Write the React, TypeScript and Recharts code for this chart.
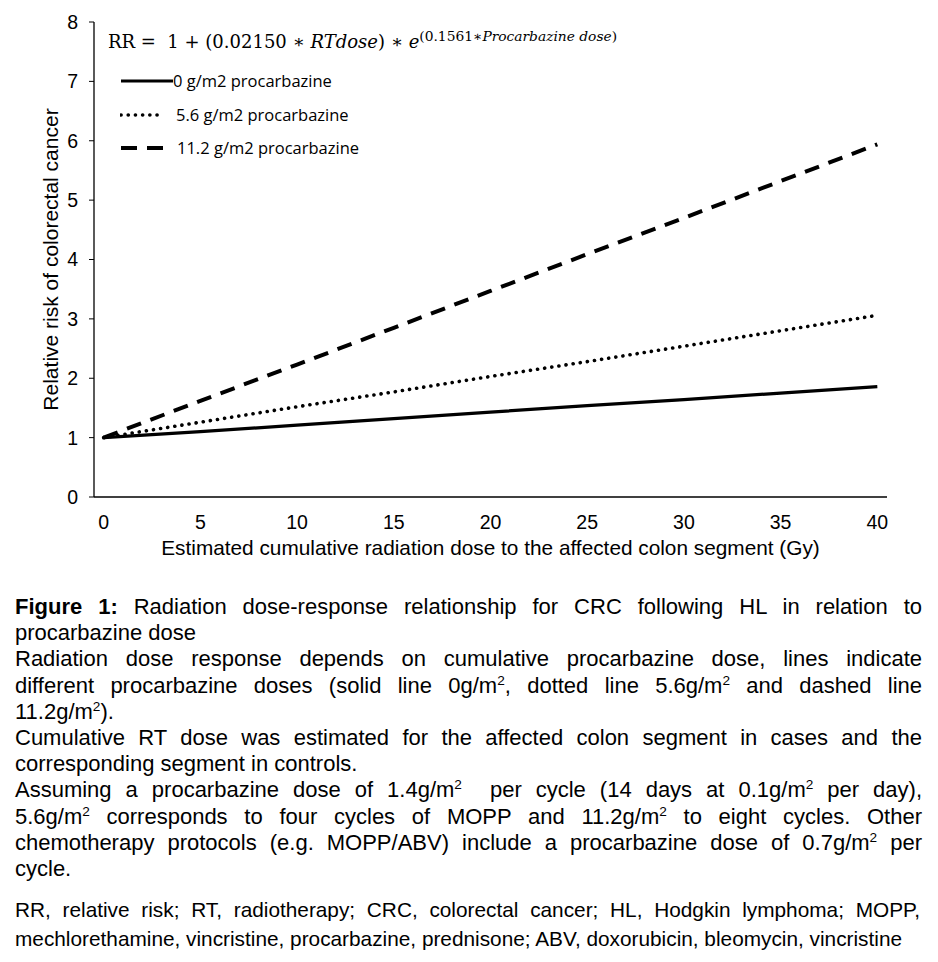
import React from 'react';
import { LineChart, Line, XAxis, YAxis, Legend, Label } from 'recharts';

// Estimated cumulative radiation dose (Gy)
const doseGy = [0, 5, 10, 15, 20, 25, 30, 35, 40];
// Relative risk
const rr0 = [1.0, 1.1, 1.21, 1.32, 1.43, 1.54, 1.64, 1.75, 1.86];
const rr56 = [1.0, 1.26, 1.52, 1.77, 2.03, 2.28, 2.54, 2.8, 3.06];
const rr112 = [1.0, 1.62, 2.23, 2.85, 3.47, 4.09, 4.7, 5.32, 5.94];

const seriesNames = ['0 g/m2 procarbazine', '5.6 g/m2 procarbazine', '11.2 g/m2 procarbazine'];
const xTickLabels = [0, 5, 10, 15, 20, 25, 30, 35, 40];
const xTickMarks = [4.5, 9.5, 14.5, 19.5, 24.5, 29.5, 34.5, 39.5];
const yTickLabels = [0, 1, 2, 3, 4, 5, 6, 7, 8];

const data = doseGy.map((d, i) => ({ dose: d, p0: rr0[i], p56: rr56[i], p112: rr112[i] }));

const lineStyles = [
  { key: 'p0', dash: undefined as string | undefined, width: 3.2, cap: 'butt' as const },
  { key: 'p56', dash: '0.1 7.1', width: 3.6, cap: 'round' as const },
  { key: 'p112', dash: '15 10', width: 4, cap: 'butt' as const },
];

const sansFont = '"Liberation Sans", Arial, sans-serif';

const supStyle: React.CSSProperties = { fontSize: '0.62em', verticalAlign: 'super', lineHeight: 0 };

function LegendBox() {
  const rowTops = [51, 85, 118];
  const sampleLen = [52, 42, 42];
  const textLeft = [65, 68, 69];
  return (
    <div style={{ position: 'relative', width: 580, height: 140 }}>
      <div
        style={{
          position: 'absolute',
          left: 0,
          top: 0,
          fontFamily: '"DejaVu Serif", "Liberation Serif", serif',
          fontSize: 18,
          lineHeight: '24px',
          whiteSpace: 'nowrap',
          color: '#000',
        }}
      >
        RR = &nbsp;1 + (0.02150 ∗ <i>RTdose</i>) ∗ <i>e</i>
        <span style={{ fontSize: 13.8, verticalAlign: 'super', lineHeight: 0 }}>
          (0.1561∗<i>Procarbazine dose</i>)
        </span>
      </div>
      {seriesNames.map((name, i) => (
        <div key={name} style={{ position: 'absolute', left: 0, top: rowTops[i] - 12, height: 24, width: 400 }}>
          <svg width={60} height={24} style={{ position: 'absolute', left: 12, top: 0 }}>
            <line
              x1={1}
              x2={1 + sampleLen[i]}
              y1={12}
              y2={12}
              stroke="#000"
              strokeWidth={lineStyles[i].width}
              strokeDasharray={i === 2 ? '16 10' : lineStyles[i].dash}
              strokeLinecap={lineStyles[i].cap}
            />
          </svg>
          <span
            style={{
              position: 'absolute',
              left: textLeft[i],
              top: 0,
              lineHeight: '24px',
              fontFamily: '"Open Sans", "Noto Sans", sans-serif',
              fontSize: 16.5,
              whiteSpace: 'nowrap',
              color: '#000',
            }}
          >
            {name}
          </span>
        </div>
      ))}
    </div>
  );
}

const lineStyle = (justify: boolean): React.CSSProperties => ({
  textAlign: justify ? 'justify' : 'left',
  textAlignLast: justify ? 'justify' : 'left',
});

export default function App() {
  return (
    <div style={{ position: 'absolute', left: 0, top: 0, width: 938, height: 962, background: '#fff' }}>
      <LineChart width={938} height={575} data={data} margin={{ top: 22, right: 51, left: 0, bottom: 18 }}>
        <XAxis
          dataKey="dose"
          type="number"
          domain={[-0.5, 40.5]}
          allowDataOverflow
          ticks={xTickLabels}
          tickLine={false}
          tickSize={6}
          tickMargin={12}
          axisLine={{ stroke: '#000', strokeWidth: 1.3 }}
          tick={{ fill: '#000', fontSize: 19.5, fontFamily: sansFont }}
          height={60}
        >
          <Label
            value="Estimated cumulative radiation dose to the affected colon segment (Gy)"
            position="insideBottom"
            offset={2}
            style={{ fill: '#000', fontSize: 20.8, fontFamily: sansFont }}
          />
        </XAxis>
        <XAxis
          xAxisId="marks"
          dataKey="dose"
          type="number"
          domain={[-0.5, 40.5]}
          allowDataOverflow
          ticks={xTickMarks}
          mirror
          axisLine={false}
          tickSize={8}
          tickLine={{ stroke: '#666', strokeWidth: 1.2 }}
          tickFormatter={() => ''}
          height={0}
        />
        <YAxis
          type="number"
          domain={[0, 8]}
          ticks={yTickLabels}
          width={94}
          tickSize={5}
          tickMargin={11}
          axisLine={{ stroke: '#000', strokeWidth: 1.3 }}
          tickLine={{ stroke: '#000', strokeWidth: 1 }}
          tick={{ fill: '#000', fontSize: 19.5, fontFamily: sansFont }}
        >
          <Label
            content={(props: any) => {
              const vb = props.viewBox || { x: 0, y: 22, width: 94, height: 475 };
              const cx = vb.x + 50;
              const cy = vb.y + vb.height / 2;
              return (
                <text
                  x={cx}
                  y={cy}
                  transform={`rotate(-90, ${cx}, ${cy})`}
                  textAnchor="middle"
                  dominantBaseline="central"
                  style={{ fill: '#000', fontSize: 21, fontFamily: sansFont }}
                >
                  Relative risk of colorectal cancer
                </text>
              );
            }}
          />
        </YAxis>
        <Legend
          layout="horizontal"
          verticalAlign="middle"
          align="center"
          content={() => <LegendBox />}
          wrapperStyle={{ left: 108, top: 30, width: 580, height: 140 }}
        />
        {lineStyles.map((s, i) => (
          <Line
            key={s.key}
            dataKey={s.key}
            name={seriesNames[i]}
            type="linear"
            stroke="#000"
            strokeWidth={s.width}
            strokeDasharray={s.dash}
            strokeLinecap={s.cap}
            dot={false}
            activeDot={false}
            isAnimationActive={false}
          />
        ))}
      </LineChart>
      <div
        style={{
          position: 'absolute',
          left: 15,
          top: 594,
          width: 907,
          fontFamily: sansFont,
          fontSize: 22,
          lineHeight: '26.2px',
          color: '#000',
        }}
      >
        <div style={lineStyle(true)}>
          <b>Figure 1:</b> Radiation dose-response relationship for CRC following HL in relation to
        </div>
        <div style={lineStyle(false)}>procarbazine dose</div>
        <div style={lineStyle(true)}>
          Radiation dose response depends on cumulative procarbazine dose, lines indicate
        </div>
        <div style={lineStyle(true)}>
          different procarbazine doses (solid line 0g/m<sup style={supStyle}>2</sup>, dotted line 5.6g/m
          <sup style={supStyle}>2</sup> and dashed line
        </div>
        <div style={lineStyle(false)}>
          11.2g/m<sup style={supStyle}>2</sup>).
        </div>
        <div style={lineStyle(true)}>
          Cumulative RT dose was estimated for the affected colon segment in cases and the
        </div>
        <div style={lineStyle(false)}>corresponding segment in controls.</div>
        <div style={lineStyle(true)}>
          Assuming a procarbazine dose of 1.4g/m<sup style={supStyle}>2</sup>&nbsp; per cycle (14 days at 0.1g/m
          <sup style={supStyle}>2</sup> per day),
        </div>
        <div style={lineStyle(true)}>
          5.6g/m<sup style={supStyle}>2</sup> corresponds to four cycles of MOPP and 11.2g/m
          <sup style={supStyle}>2</sup> to eight cycles. Other
        </div>
        <div style={lineStyle(true)}>
          chemotherapy protocols (e.g. MOPP/ABV) include a procarbazine dose of 0.7g/m
          <sup style={supStyle}>2</sup> per
        </div>
        <div style={lineStyle(false)}>cycle.</div>
      </div>
      <div
        style={{
          position: 'absolute',
          left: 15,
          top: 895,
          width: 905,
          fontFamily: sansFont,
          fontSize: 20.8,
          lineHeight: '29px',
          color: '#000',
        }}
      >
        <div style={lineStyle(true)}>
          RR, relative risk; RT, radiotherapy; CRC, colorectal cancer; HL, Hodgkin lymphoma; MOPP,
        </div>
        <div style={{ ...lineStyle(false), whiteSpace: 'nowrap' }}>
          mechlorethamine, vincristine, procarbazine, prednisone; ABV, doxorubicin, bleomycin, vincristine
        </div>
      </div>
    </div>
  );
}
